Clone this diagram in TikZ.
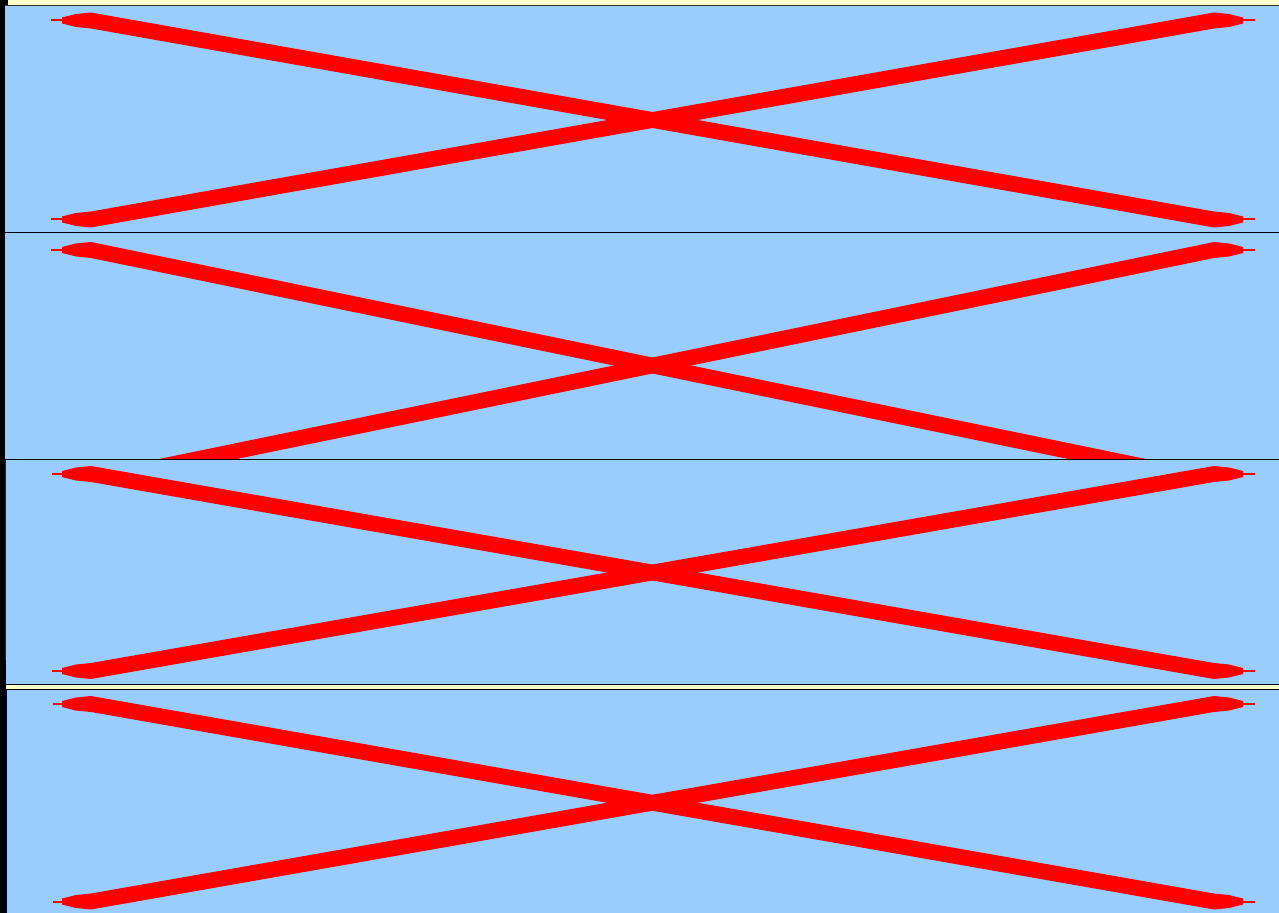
\documentclass[tikz,border=0pt]{standalone}
\definecolor{skyb}{HTML}{99CCFF}
\definecolor{paleyel}{HTML}{FFFFCC}
\definecolor{xredc}{HTML}{FF0000}
\tikzset{
  xred/.style={fill=xredc},
  panelbg/.style={fill=skyb},
  sepline/.style={draw=black,line width=0.75pt},
}
% #1 = y at left end, #2 = y at right end, #3 = x where the left tail starts
\newcommand\redstroke[3]{%
  \fill[xred] (#3,{#1-1}) rectangle (63,{#1+1});
  \fill[xred] (1242,{#2-1}) rectangle (1255,{#2+1});
  \fill[xred] (62,{#1-3}) -- (76,{#1-6.5}) -- (91,{#1-8}) -- (1214,{#2-8}) -- (1229,{#2-6.5}) -- (1243,{#2-3})
    -- (1243,{#2+3}) -- (1229,{#2+6.5}) -- (1214,{#2+8}) -- (91,{#1+8}) -- (76,{#1+6.5}) -- (62,{#1+3}) -- cycle;
}
\begin{document}
\begin{tikzpicture}[x=0.75pt,y=-0.75pt]
\useasboundingbox (0,0) rectangle (1279,913);
% pale yellow backdrop (visible as strips)
\fill[paleyel] (0,0) rectangle (1279,913);
% panel 1
\fill[panelbg] (4,5.5) rectangle (1279,232.5);
\begin{scope}
  \clip (4,5.5) rectangle (1279,232.5);
  \redstroke{20.5}{219.5}{51}
  \redstroke{219.5}{20.5}{51}
\end{scope}
% panel 2
\fill[panelbg] (4,232.5) rectangle (1279,459.5);
\begin{scope}
  \clip (4,232.5) rectangle (1279,459.5);
  \redstroke{250}{481}{51}
  \redstroke{481}{250}{51}
\end{scope}
% panel 3
\fill[panelbg] (5,459.5) rectangle (1279,684.5);
\begin{scope}
  \clip (5,459.5) rectangle (1279,684.5);
  \redstroke{474}{671}{52}
  \redstroke{671}{474}{52}
\end{scope}
% panel 4
\fill[panelbg] (6,689.5) rectangle (1279,913);
\begin{scope}
  \clip (6,689.5) rectangle (1279,913);
  \redstroke{704}{901.5}{53}
  \redstroke{901.5}{704}{53}
\end{scope}
% panel borders
\draw[sepline,draw=black!80] (4,5.5) -- (1279,5.5);
\draw[sepline] (4,232.5) -- (1279,232.5);
\draw[sepline] (4,459.5) -- (1279,459.5);
\draw[sepline,draw=black!85] (5.5,459.5) -- (5.5,684.5);
\draw[sepline] (5,684.5) -- (1279,684.5);
\draw[sepline] (6,689.5) -- (1279,689.5);
\draw[sepline,draw=black!70!blue] (6.5,689.5) -- (6.5,913);
% left black bar
\fill[black] (0,0) rectangle (4.5,913);
\fill[black] (0,0) rectangle (8,5);
\fill[black] (0,459.5) rectangle (5,913);
\fill[black] (0,660) rectangle (6,913);
\end{tikzpicture}
\end{document}
